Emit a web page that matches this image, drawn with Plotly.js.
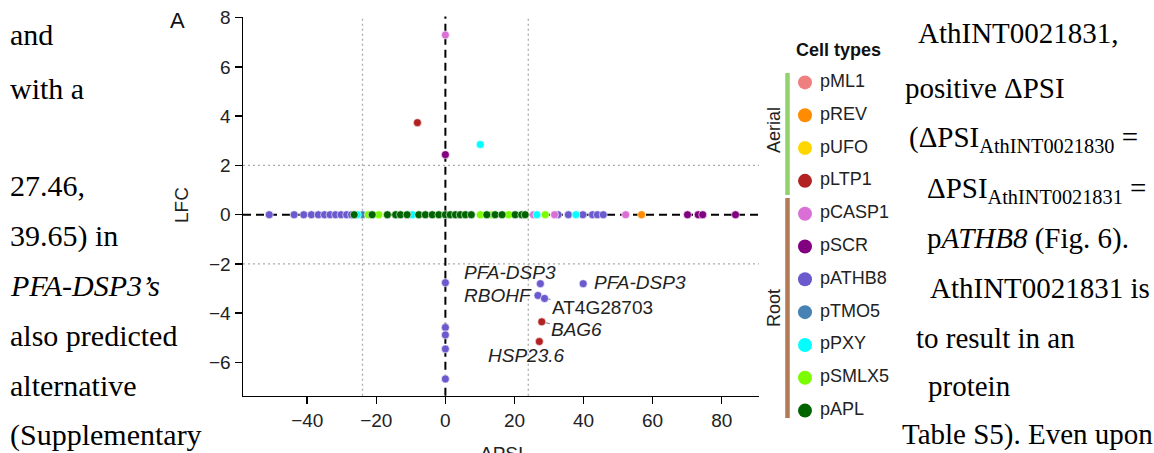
<!DOCTYPE html>
<html><head><meta charset="utf-8">
<script src="https://cdn.plot.ly/plotly-3.0.1.min.js"></script>
<style>html,body{margin:0;padding:0;background:#fff;overflow:hidden;} #chart{width:1154px;height:453px;}</style>
</head><body><div id="chart"></div>
<script>
// ---- Data ----
const cellTypes  = ['pML1','pREV','pUFO','pLTP1','pCASP1','pSCR','pATHB8','pTMO5','pPXY','pSMLX5','pAPL'];
const cellColors = ['#F08080','#FF8C00','#FFD700','#B22222','#DA70D6','#800080','#6A5ACD','#4682B4','#00FFFF','#7CFC00','#006400'];
const groupNames = ['Aerial','Root'];
const groupSizes = [4, 7];

const dpsi_pML1 = [];            const lfc_pML1 = [];
const dpsi_pREV = [56.8];        const lfc_pREV = [0];
const dpsi_pUFO = [];            const lfc_pUFO = [];
const dpsi_pLTP1 = [-8.1, 27.9, 27.2];
const lfc_pLTP1  = [3.74, -4.35, -5.15];
const dpsi_pCASP1 = [0, 25.5, 31.6, 52.2];
const lfc_pCASP1  = [7.3, 0, 0, 0];
const dpsi_pSCR = [0, 70.1, 73.2, 74.5, 84.0];
const lfc_pSCR  = [2.44, 0, 0, 0, 0];
const dpsi_pATHB8 = [-51.0, -43.8, -41.0, -38.8, -36.8, -35.0, -33.4, -31.8, -30.2, -28.6, -27.2,
                     32.6, 35.6, 39.8, 42.6, 44.0, 45.7,
                     0, 0, 0, 0, 0, 27.5, 39.9, 26.8, 28.7];
const lfc_pATHB8  = [0, 0, 0, 0, 0, 0, 0, 0, 0, 0, 0,
                     0, 0, 0, 0, 0, 0,
                     -2.76, -4.58, -4.88, -5.45, -6.67, -2.8, -2.8, -3.28, -3.4];
const dpsi_pTMO5 = [-24.0];      const lfc_pTMO5 = [0];
const dpsi_pPXY = [-25.5, -9.6, 10.1, 26.5, 37.8];
const lfc_pPXY  = [0, 0, 2.85, 0, 0];
const dpsi_pSMLX5 = [-22.3, -19.3, 10.1, 13.5, 18.3, 28.9];
const lfc_pSMLX5  = [0, 0, 0, 0, 0, 0];
const dpsi_pAPL = [-26.4, -21.2, -16.8, -14.4, -13.0, -11.1, -7.7, -5.8, -3.8, -1.9, 0, 1.4, 2.9, 4.3, 5.8, 7.5,
                   12.0, 14.4, 16.4, 20.2, 22.1, 23.1];
const lfc_pAPL  = dpsi_pAPL.map(() => 0);

// labelled genes: [cell type, index into that cell type's arrays]
const geneNames  = ['PFA-DSP3', 'PFA-DSP3', 'RBOHF', 'AT4G28703', 'BAG6', 'HSP23.6'];
const geneCell   = ['pATHB8', 'pATHB8', 'pATHB8', 'pATHB8', 'pLTP1', 'pLTP1'];
const geneIndex  = [22, 23, 24, 25, 1, 2];

const xTicks = [-40, -20, 0, 20, 40, 60, 80];
const yTicks = [-6, -4, -2, 0, 2, 4, 6, 8];
const dpsiCut = 24, lfcCut = 2;

const series = {
  pML1:[dpsi_pML1,lfc_pML1], pREV:[dpsi_pREV,lfc_pREV], pUFO:[dpsi_pUFO,lfc_pUFO], pLTP1:[dpsi_pLTP1,lfc_pLTP1],
  pCASP1:[dpsi_pCASP1,lfc_pCASP1], pSCR:[dpsi_pSCR,lfc_pSCR], pATHB8:[dpsi_pATHB8,lfc_pATHB8], pTMO5:[dpsi_pTMO5,lfc_pTMO5],
  pPXY:[dpsi_pPXY,lfc_pPXY], pSMLX5:[dpsi_pSMLX5,lfc_pSMLX5], pAPL:[dpsi_pAPL,lfc_pAPL]
};

// ---- Page geometry helpers ----
const W = 1154, H = 453;
const px = x => x / W;
const py = y => 1 - y / H;
const SANS = 'Liberation Sans, Arial, sans-serif';
const SERIF = 'Liberation Serif, Times New Roman, serif';

const traces = [];
const drawOrder = ['pATHB8','pML1','pREV','pUFO','pLTP1','pCASP1','pSCR','pTMO5','pPXY','pSMLX5','pAPL'];
drawOrder.forEach(ct => {
  const i = cellTypes.indexOf(ct);
  traces.push({
    type: 'scatter', mode: 'markers', name: ct,
    x: series[ct][0], y: series[ct][1], xaxis: 'x', yaxis: 'y',
    marker: {color: cellColors[i], size: 8, line: {color: '#ffffff', width: 0.6}},
    hoverinfo: 'skip'
  });
});

// legend (drawn on its own hidden axes)
const legIdx = cellTypes.map((_, i) => i);
traces.push({
  type: 'scatter', mode: 'markers', x: cellTypes.map(() => 25), y: legIdx,
  xaxis: 'x2', yaxis: 'y2', marker: {color: cellColors, size: 14}, hoverinfo: 'skip'
});
traces.push({
  type: 'scatter', mode: 'text', x: cellTypes.map(() => 40), y: legIdx, text: cellTypes,
  textposition: 'middle right', textfont: {family: SANS, size: 18, color: '#222'},
  xaxis: 'x2', yaxis: 'y2', hoverinfo: 'skip'
});

const axStyle = {
  showline: true, linecolor: '#000', linewidth: 1.5, ticks: 'outside', ticklen: 7, tickwidth: 1.5,
  tickcolor: '#000', showgrid: false, zeroline: false,
  tickfont: {family: SANS, size: 19, color: '#222'}
};

const shapes = [
  {type:'line', xref:'x', yref:'y domain', x0:-dpsiCut, x1:-dpsiCut, y0:0, y1:1, line:{color:'#aaaaaa', width:1.3, dash:'2px,3px'}, layer:'below'},
  {type:'line', xref:'x', yref:'y domain', x0:dpsiCut, x1:dpsiCut, y0:0, y1:1, line:{color:'#aaaaaa', width:1.3, dash:'2px,3px'}, layer:'below'},
  {type:'line', xref:'x domain', yref:'y', x0:0, x1:1, y0:lfcCut, y1:lfcCut, line:{color:'#aaaaaa', width:1.3, dash:'2px,3px'}, layer:'below'},
  {type:'line', xref:'x domain', yref:'y', x0:0, x1:1, y0:-lfcCut, y1:-lfcCut, line:{color:'#aaaaaa', width:1.3, dash:'2px,3px'}, layer:'below'},
  {type:'line', xref:'x', yref:'y domain', x0:0, x1:0, y0:0, y1:1, line:{color:'#000', width:2, dash:'8px,5px'}, layer:'below'},
  {type:'line', xref:'x domain', yref:'y', x0:0, x1:1, y0:0, y1:0, line:{color:'#000', width:2, dash:'8px,5px'}, layer:'below'},
  // legend group bars
  {type:'line', xref:'paper', yref:'paper', x0:px(787.5), x1:px(787.5), y0:py(73), y1:py(195), line:{color:'#8fd36a', width:4.5}},
  {type:'line', xref:'paper', yref:'paper', x0:px(787.5), x1:px(787.5), y0:py(198), y1:py(418), line:{color:'#b27a55', width:4.5}}
];

const annotations = [];
// gene labels
const labelStyle = [
  {xshift:-30, yshift:11, italic:true},
  {xshift:57, yshift:1, italic:true},
  {xshift:-40, yshift:0, italic:true},
  {arrow:true, ax:58, ay:9, italic:false},
  {arrow:true, ax:35, ay:8, italic:true},
  {xshift:-13, yshift:-14, italic:true}
];
geneNames.forEach((g, k) => {
  const s = series[geneCell[k]];
  const st = labelStyle[k];
  const a = {
    xref:'x', yref:'y', x: s[0][geneIndex[k]], y: s[1][geneIndex[k]],
    xanchor:'center', yanchor:'middle',
    text: st.italic ? '<i>' + g + '</i>' : g,
    font: {family: SANS, size: 19, color: '#222'}
  };
  if (st.arrow) {
    Object.assign(a, {showarrow:true, ax:st.ax, ay:st.ay, arrowhead:0, arrowwidth:1, arrowcolor:'#777', standoff:4});
  } else {
    Object.assign(a, {showarrow:false, xshift:st.xshift, yshift:st.yshift});
  }
  annotations.push(a);
});

// axis titles, panel letter, legend title and group labels
const C = {xref:'paper', yref:'paper', xanchor:'center', yanchor:'middle', showarrow:false};
annotations.push(
  Object.assign({}, C, {x:px(181), y:py(205), text:'LFC', textangle:-90, font:{family:SANS, size:19, color:'#222'}}),
  Object.assign({}, C, {x:px(501), y:py(453), text:'ΔPSI', font:{family:SANS, size:19, color:'#222'}}),
  Object.assign({}, C, {x:px(177), y:py(20), text:'A', font:{family:SANS, size:22, color:'#111'}}),
  Object.assign({}, C, {x:px(838), y:py(50), text:'<b>Cell types</b>', font:{family:SANS, size:18, color:'#111'}}),
  Object.assign({}, C, {x:px(774), y:py(130), text:groupNames[0], textangle:-90, font:{family:SANS, size:18, color:'#222'}}),
  Object.assign({}, C, {x:px(774), y:py(308), text:groupNames[1], textangle:-90, font:{family:SANS, size:18, color:'#222'}})
);

// surrounding page text
const leftLines  = ['and', 'with a', '27.46,', '39.65) in', '<i>PFA-DSP3’s</i>', 'also predicted', 'alternative', '(Supplementary'];
const leftY      = [35, 88, 185, 236, 285, 335, 385, 435];
const rightLines = ['AthINT0021831,', 'positive ΔPSI', '(ΔPSI<sub>AthINT0021830</sub> =', 'ΔPSI<sub>AthINT0021831</sub> =',
                    'p<i>ATHB8</i> (Fig. 6).', 'AthINT0021831 is', 'to result in an', 'protein', 'Table S5). Even upon'];
const rightX     = [916, 903, 907, 925, 925, 928, 914, 926, 900];
const rightY     = [33, 88, 139, 190, 238, 288, 338, 386, 434];
leftLines.forEach((t, i) => annotations.push({xref:'paper', yref:'paper', x:px(8), y:py(leftY[i]), xanchor:'left', yanchor:'middle',
  text:t, showarrow:false, font:{family:SERIF, size:30, color:'#000'}}));
rightLines.forEach((t, i) => annotations.push({xref:'paper', yref:'paper', x:px(rightX[i]), y:py(rightY[i]), xanchor:'left', yanchor:'middle',
  text:t, showarrow:false, font:{family:SERIF, size:29, color:'#000'}}));

const layout = {
  width: W, height: H, margin: {l:0, r:0, t:0, b:0},
  paper_bgcolor: '#fff', plot_bgcolor: 'rgba(0,0,0,0)', showlegend: false,
  xaxis: Object.assign({}, axStyle, {domain:[px(243), px(759)], range:[-58.6, 90.8], tickvals:xTicks, anchor:'y'}),
  yaxis: Object.assign({}, axStyle, {domain:[py(395.7), py(16.5)], range:[-7.35, 8.05], tickvals:yTicks, anchor:'x'}),
  xaxis2: {domain:[px(780), px(900)], range:[0, 120], visible:false, anchor:'y2', fixedrange:true},
  yaxis2: {domain:[py(427), py(66)], range:[10.5, -0.5], visible:false, anchor:'x2', fixedrange:true},
  shapes: shapes, annotations: annotations
};

Plotly.newPlot('chart', traces, layout, {staticPlot:true, displayModeBar:false});
</script>
</body></html>
